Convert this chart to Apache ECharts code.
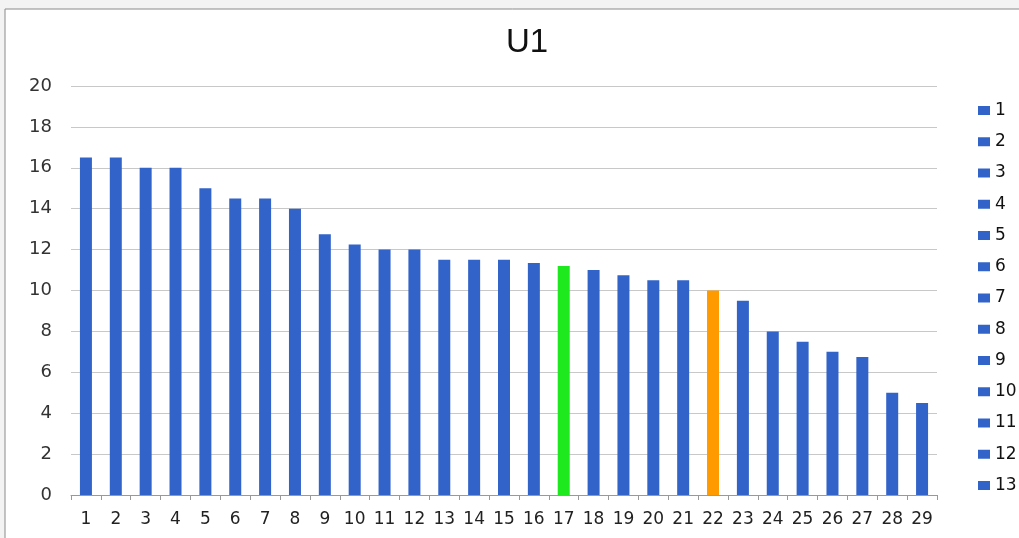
<!DOCTYPE html>
<html>
<head>
<meta charset="utf-8">
<script src="https://cdn.jsdelivr.net/npm/echarts@6/dist/echarts.min.js"></script>
<style>
  html, body { margin: 0; padding: 0; background: #f3f3f3; }
  #chart { width: 1019px; height: 538px; }
</style>
</head>
<body>
<div id="chart"></div>
<script>
// chart data
const categories = ["1","2","3","4","5","6","7","8","9","10","11","12","13","14","15","16","17","18","19","20","21","22","23","24","25","26","27","28","29"];
const values = [16.5,16.5,16,16,15,14.5,14.5,14,12.75,12.25,12,12,11.5,11.5,11.5,11.35,11.2,11,10.75,10.5,10.5,10,9.5,8,7.5,7,6.75,5,4.5];
const legendNames = ["1","2","3","4","5","6","7","8","9","10","11","12","13"];
const yTicks = { min: 0, max: 20, interval: 2 };

const BLUE = "#3263c9";
// highlighted bars
const highlight = { "17": "#1ee81e", "22": "#ff9a00" };

let chart = echarts.init(document.getElementById("chart"));

let barData = values.map((v, i) => {
  let c = highlight[categories[i]];
  return c ? { value: v, itemStyle: { color: c } } : v;
});

// one real bar series + empty series so the legend shows 13 entries
let series = [{
  name: legendNames[0],
  type: "bar",
  barWidth: 12,
  itemStyle: { color: BLUE },
  data: barData,
}];
legendNames.slice(1).forEach((n) => {
  series.push({ name: n, type: "line", data: [], itemStyle: { color: BLUE } });
});

let option = {
  animation: false,
  backgroundColor: "transparent",
  title: {
    text: "U1",
    left: 522,
    textAlign: "center",
    top: 21,
    textStyle: { fontFamily: "Liberation Sans", fontSize: 33, fontWeight: "normal", color: "#111" },
  },
  legend: {
    orient: "vertical",
    left: 973,
    top: 97,
    icon: "rect",
    itemWidth: 12,
    itemHeight: 9,
    itemGap: 14.25,
    selectedMode: false,
    data: legendNames,
    textStyle: { fontFamily: "DejaVu Sans", fontSize: 17, lineHeight: 17, color: "#111" },
  },
  grid: { left: 71, right: 82, top: 86, bottom: 43 },
  xAxis: {
    type: "category",
    data: categories,
    axisLine: { lineStyle: { color: "#999" } },
    axisTick: { show: true, length: 5, lineStyle: { color: "#999" } },
    axisLabel: { fontFamily: "DejaVu Sans", fontSize: 17, color: "#222", margin: 16, interval: 0 },
  },
  yAxis: {
    type: "value",
    min: yTicks.min,
    max: yTicks.max,
    interval: yTicks.interval,
    axisLine: { show: false },
    axisTick: { show: false },
    splitLine: { lineStyle: { color: "#c8c8c8" } },
    axisLabel: { fontFamily: "DejaVu Sans", fontSize: 18, color: "#333", margin: 19 },
  },
  graphic: [
    {
      type: "rect",
      z: -10,
      shape: { x: 5, y: 9, width: 1030, height: 540 },
      style: { fill: "#fff", stroke: "#8a8a8a", lineWidth: 1 },
    },
  ],
  series: series,
};

chart.setOption(option);
</script>
</body>
</html>
